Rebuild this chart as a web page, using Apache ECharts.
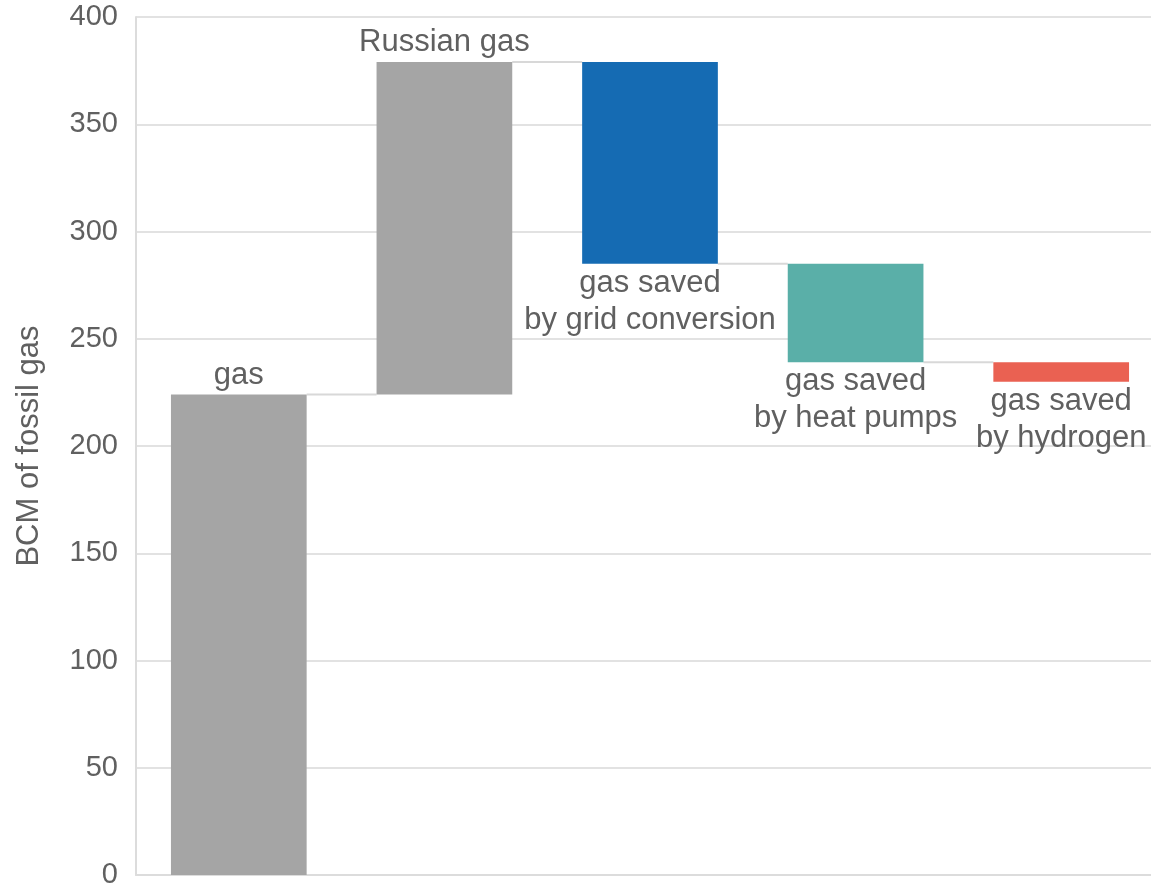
<!DOCTYPE html>
<html>
<head>
<meta charset="utf-8">
<script src="https://cdn.jsdelivr.net/npm/echarts@6/dist/echarts.min.js"></script>
<style>html,body{margin:0;padding:0;background:#fff}#c{width:1151px;height:887px}</style>
</head>
<body>
<div id="c"></div>
<script>
const categories = ['gas', 'Russian gas', 'gas saved\nby grid conversion', 'gas saved\nby heat pumps', 'gas saved\nby hydrogen'];
const changes = [224, 155, -94, -46, -9];
const colors = ['#a5a5a5', '#a5a5a5', '#156bb3', '#5aafa8', '#ea6152'];
const yTicks = { min: 0, max: 400, interval: 50 };

// build waterfall from the changes
const bases = [], heights = [], levels = [];
let total = 0;
changes.forEach((c, i) => {
  const next = total + c;
  bases.push(Math.min(total, next));
  heights.push(Math.abs(c));
  total = next;
  levels.push(total);
});

const chart = echarts.init(document.getElementById('c'), null, { renderer: 'canvas' });
const FONT = 'Liberation Sans, Arial, sans-serif';
const labelFont = { fontFamily: FONT, fontSize: 31, color: '#606060', lineHeight: 37 };
const barFrac = 0.66;

chart.setOption({
  animation: false,
  grid: { left: 136, top: 17, bottom: 12, width: 1028, containLabel: false, outerBoundsMode: 'none' },
  xAxis: {
    type: 'category',
    data: categories,
    axisLine: { show: true, lineStyle: { color: '#dcdcdc', width: 2 } },
    axisTick: { show: false },
    axisLabel: { show: false },
    splitLine: { show: false }
  },
  yAxis: {
    type: 'value',
    min: yTicks.min, max: yTicks.max, interval: yTicks.interval,
    name: 'BCM of fossil gas',
    nameLocation: 'middle',
    nameRotate: 90,
    nameGap: 91,
    nameTextStyle: { fontFamily: FONT, fontSize: 31, color: '#606060' },
    axisLine: { show: true, lineStyle: { color: '#dcdcdc', width: 2 } },
    axisTick: { show: false },
    axisLabel: { fontFamily: FONT, fontSize: 29, color: '#606060', margin: 18 },
    splitLine: { lineStyle: { color: '#e2e2e2', width: 2 } }
  },
  series: [
    {
      type: 'custom',
      z: 1,
      data: levels.slice(0, -1).map((l, i) => [i, l]),
      renderItem: function (params, api) {
        const i = api.value(0), l = api.value(1);
        const p0 = api.coord([i, l]);
        const p1 = api.coord([i + 1, l]);
        const half = api.size([1, 0])[0] * barFrac / 2;
        return {
          type: 'line',
          shape: { x1: p0[0] + half, y1: p0[1], x2: p1[0] - half, y2: p1[1] },
          style: { stroke: '#d8d8d8', lineWidth: 2 }
        };
      }
    },
    {
      type: 'bar',
      stack: 'w',
      barWidth: (barFrac * 100) + '%',
      itemStyle: { color: 'transparent' },
      emphasis: { disabled: true },
      data: bases
    },
    {
      type: 'bar',
      stack: 'w',
      z: 3,
      data: heights.map((h, i) => ({
        value: h,
        itemStyle: { color: colors[i] },
        label: {
          show: true,
          position: changes[i] >= 0 ? 'top' : 'bottom',
          distance: 1,
          formatter: categories[i],
          ...labelFont
        }
      }))
    }
  ]
});
</script>
</body>
</html>
